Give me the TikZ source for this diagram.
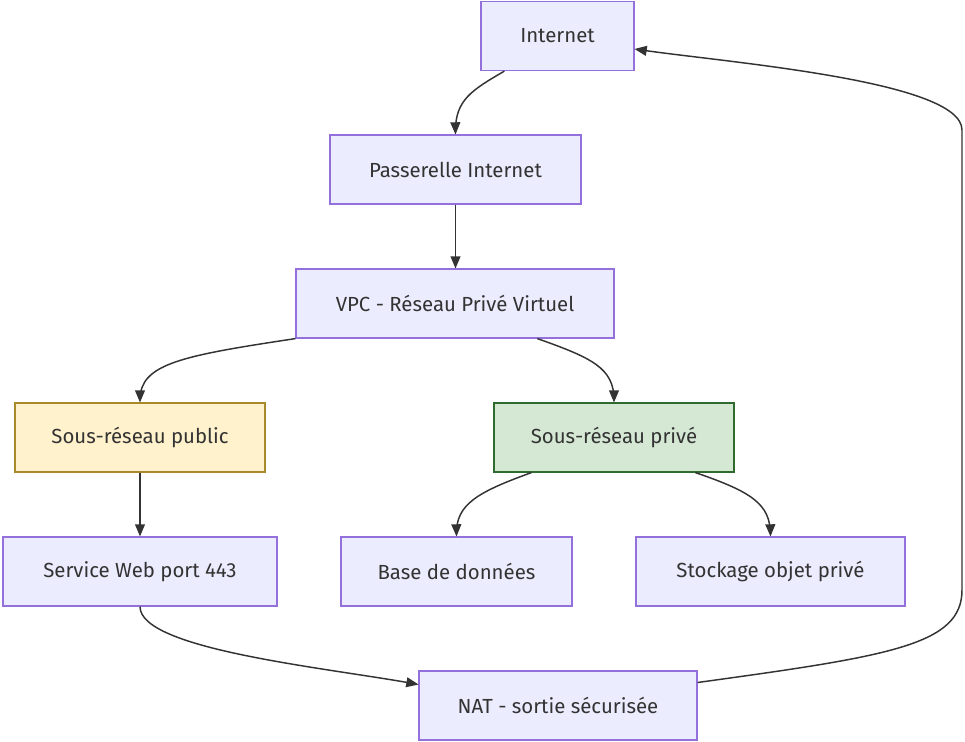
\documentclass[tikz,border=0pt]{standalone}
\usepackage{fontspec}
\setmainfont{Fira Sans}
\usepackage{tikz}
\usetikzlibrary{arrows}
\usetikzlibrary{calc}
\definecolor{boxfill}{HTML}{ECECFF}
\definecolor{boxline}{HTML}{9370DB}
\definecolor{pubfill}{HTML}{FFF2CC}
\definecolor{publine}{HTML}{A88A2A}
\definecolor{privfill}{HTML}{D5E8D4}
\definecolor{privline}{HTML}{2F6B2F}
\definecolor{inkgray}{HTML}{333333}
\tikzstyle{netbox} = [draw=boxline, fill=boxfill, line width=0.9pt,
    rectangle, minimum height=51.75pt, text=inkgray, font=\fontsize{15.3}{18}\selectfont]
\tikzstyle{pubbox} = [netbox, draw=publine, fill=pubfill]
\tikzstyle{privbox} = [netbox, draw=privline, fill=privfill]
\tikzstyle{link} = [draw=inkgray, line width=1.1pt, -triangle 45]

\begin{document}
\begin{tikzpicture}[x=0.75pt,y=-0.75pt]
\useasboundingbox (0,0) rectangle (965,742);

% boxes
\node[netbox, minimum width=114.75pt] (inet) at (557.5,36) {Internet};
\node[netbox, minimum width=188.25pt] (gw) at (455.5,169.5) {Passerelle Internet};
\node[netbox, minimum width=238.5pt] (vpc) at (455,303.5) {VPC - Réseau Privé Virtuel};
\node[pubbox, minimum width=187.5pt] (pub) at (140,437.5) {Sous-réseau public};
\node[privbox, minimum width=180pt] (priv) at (614,437.5) {Sous-réseau privé};
\node[netbox, minimum width=205.5pt] (web) at (140,571.5) {Service Web port 443};
\node[netbox, minimum width=173.25pt] (db) at (456.5,571.5) {Base de données};
\node[netbox, minimum width=201.75pt] (store) at (770.5,571.5) {Stockage objet privé};
\node[netbox, minimum width=208.5pt] (nat) at (558,705.5) {NAT - sortie sécurisée};

% links
\draw[link] ($(inet.south west)+(24,0)$) .. controls (472,90) and (455,100) .. (gw.north);
\draw[link] (gw.south) -- (gw.south |- vpc.north);
\draw[link] (vpc.south west) .. controls (180,356) and (140,364) .. (pub.north);
\draw[link] ($(vpc.south west)+(242,0)$) .. controls (592,358) and (614,368) .. (priv.north);
\draw[link] (pub) -- (web);
\draw[link] ($(priv.south west)+(38,0)$) .. controls (478,492) and (456,504) .. (db.north);
\draw[link] ($(priv.south west)+(202,0)$) .. controls (752,492) and (770,504) .. (store.north);
\draw[link] (web.south) .. controls (140,650) and (330,668) .. ($(nat.west)+(0,-21)$);
\draw[link] ($(nat.east)+(0,-23)$) .. controls (890,656) and (962,645) .. (962,590)
    -- (962,130) .. controls (962,80) and (720,62) .. ($(inet.east)+(0,13)$);

\end{tikzpicture}
\end{document}
